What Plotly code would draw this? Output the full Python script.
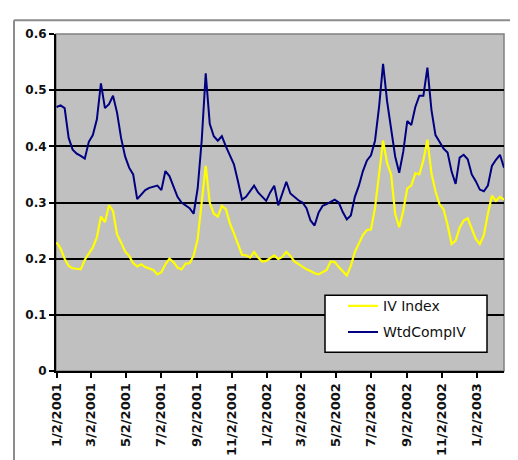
import pandas as pd
import plotly.graph_objects as go

# weekly sample dates starting 1/2/2001
start_date = "2001-01-02"
n_points = 112
dates = pd.date_range(start_date, periods=n_points, freq="7D")

iv_index = [
    0.229, 0.218, 0.200, 0.187, 0.183, 0.182, 0.181, 0.198, 0.208, 0.220,
    0.238, 0.275, 0.265, 0.295, 0.285, 0.243, 0.229, 0.213, 0.205, 0.192,
    0.186, 0.190, 0.185, 0.183, 0.180, 0.172, 0.176, 0.190, 0.200, 0.194,
    0.184, 0.181, 0.191, 0.192, 0.205, 0.235, 0.295, 0.365, 0.300, 0.280,
    0.275, 0.294, 0.288, 0.263, 0.245, 0.225, 0.207, 0.206, 0.202, 0.212,
    0.202, 0.195, 0.196, 0.201, 0.206, 0.199, 0.203, 0.212, 0.205, 0.195,
    0.190, 0.186, 0.181, 0.178, 0.174, 0.172, 0.176, 0.180, 0.195, 0.194,
    0.185, 0.177, 0.170, 0.187, 0.212, 0.227, 0.242, 0.251, 0.252, 0.290,
    0.355, 0.410, 0.370, 0.350, 0.280, 0.256, 0.285, 0.325, 0.330, 0.352,
    0.350, 0.375, 0.412, 0.352, 0.320, 0.297, 0.288, 0.260, 0.226, 0.232,
    0.255, 0.268, 0.272, 0.255, 0.235, 0.226, 0.242, 0.280, 0.312, 0.303,
    0.310, 0.305,
]

wtd_comp_iv = [
    0.470, 0.473, 0.468, 0.415, 0.394, 0.387, 0.383, 0.378, 0.408, 0.420,
    0.448, 0.512, 0.468, 0.475, 0.490, 0.460, 0.415, 0.382, 0.362, 0.350,
    0.306, 0.315, 0.322, 0.326, 0.328, 0.330, 0.322, 0.356, 0.347, 0.330,
    0.310, 0.300, 0.295, 0.290, 0.280, 0.325, 0.410, 0.530, 0.440, 0.418,
    0.410, 0.418, 0.400, 0.384, 0.368, 0.338, 0.305, 0.310, 0.320, 0.330,
    0.318, 0.310, 0.303, 0.318, 0.330, 0.295, 0.318, 0.337, 0.316, 0.310,
    0.304, 0.300, 0.290, 0.268, 0.259, 0.282, 0.294, 0.297, 0.301, 0.305,
    0.300, 0.283, 0.270, 0.277, 0.310, 0.330, 0.356, 0.375, 0.384, 0.410,
    0.470, 0.547, 0.480, 0.430, 0.382, 0.353, 0.390, 0.445, 0.438, 0.470,
    0.490, 0.490, 0.540, 0.465, 0.420, 0.408, 0.396, 0.389, 0.355, 0.333,
    0.380, 0.385, 0.377, 0.350, 0.338, 0.323, 0.320, 0.330, 0.365, 0.376,
    0.385, 0.362,
]

tick_dates = ["2001-01-02", "2001-03-02", "2001-05-02", "2001-07-02", "2001-09-02",
              "2001-11-02", "2002-01-02", "2002-03-02", "2002-05-02", "2002-07-02",
              "2002-09-02", "2002-11-02", "2003-01-02"]
tick_labels = ["1/2/2001", "3/2/2001", "5/2/2001", "7/2/2001", "9/2/2001",
               "11/2/2001", "1/2/2002", "3/2/2002", "5/2/2002", "7/2/2002",
               "9/2/2002", "11/2/2002", "1/2/2003"]

y_ticks = [0, 0.1, 0.2, 0.3, 0.4, 0.5, 0.6]
y_labels = ["0", "0.1", "0.2", "0.3", "0.4", "0.5", "0.6"]

font_family = "DejaVu Sans"

# plot area geometry in pixels (for paper-coordinate decorations)
PW, PH = 448, 342

fig = go.Figure()
fig.add_trace(go.Scatter(x=dates, y=iv_index, mode="lines", name="IV Index",
                         legendgroup="a",
                         line=dict(color="#FFFF00", width=2.2)))
fig.add_trace(go.Scatter(x=dates, y=wtd_comp_iv, mode="lines", name="WtdCompIV",
                         legendgroup="b",
                         line=dict(color="#000080", width=2)))

fig.update_layout(
    width=518, height=460,
    margin=dict(l=48, r=22, t=26, b=92),
    paper_bgcolor="white",
    plot_bgcolor="#C0C0C0",
    font=dict(family=font_family, color="black", size=12),
    showlegend=True,
    legend=dict(x=(335 - 48) / PW, y=(368 - 286) / PH, xanchor="left", yanchor="top",
                bgcolor="rgba(0,0,0,0)", borderwidth=0,
                traceorder="grouped", tracegroupgap=5,
                font=dict(family=font_family, size=14, color="#111111")),
    xaxis=dict(type="date", range=["2001-01-01", "2003-02-18"],
               tickmode="array", tickvals=tick_dates, ticktext=tick_labels,
               tickangle=-90, ticks="outside", ticklen=5, tickwidth=1.5, tickcolor="black",
               showline=True, linecolor="black", linewidth=2, showgrid=False,
               tickfont=dict(family=font_family, size=13, color="#111111", weight="bold"),
               zeroline=False),
    yaxis=dict(range=[0, 0.6], tickmode="array", tickvals=y_ticks, ticktext=y_labels,
               ticks="outside", ticklen=5, tickwidth=1.5, tickcolor="black",
               showline=True, linecolor="black", linewidth=2,
               showgrid=True, gridcolor="black", gridwidth=1.5, zeroline=False,
               tickfont=dict(family=font_family, size=12, color="#111111", weight="bold")),
    shapes=[
        dict(type="rect", xref="paper", yref="paper", x0=0, x1=1, y0=0, y1=1,
             line=dict(color="#808080", width=1.5), layer="below"),
        # legend box
        dict(type="rect", xref="paper", yref="paper",
             x0=(317 - 48) / PW, x1=(479 - 48) / PW,
             y0=(368 - 349) / PH, y1=(368 - 291) / PH,
             fillcolor="white", line=dict(color="black", width=1.5), layer="above"),
        # outer chart frame (left and top edges)
        dict(type="line", xref="paper", yref="paper", x0=-42 / PW, x1=1 + 22 / PW,
             y0=1 + 14 / PH, y1=1 + 14 / PH, line=dict(color="#8C8C8C", width=2)),
        dict(type="line", xref="paper", yref="paper", x0=-42 / PW, x1=-42 / PW,
             y0=1 + 14 / PH, y1=-92 / PH, line=dict(color="#8C8C8C", width=2)),
    ],
)

fig.write_html("out.html")
